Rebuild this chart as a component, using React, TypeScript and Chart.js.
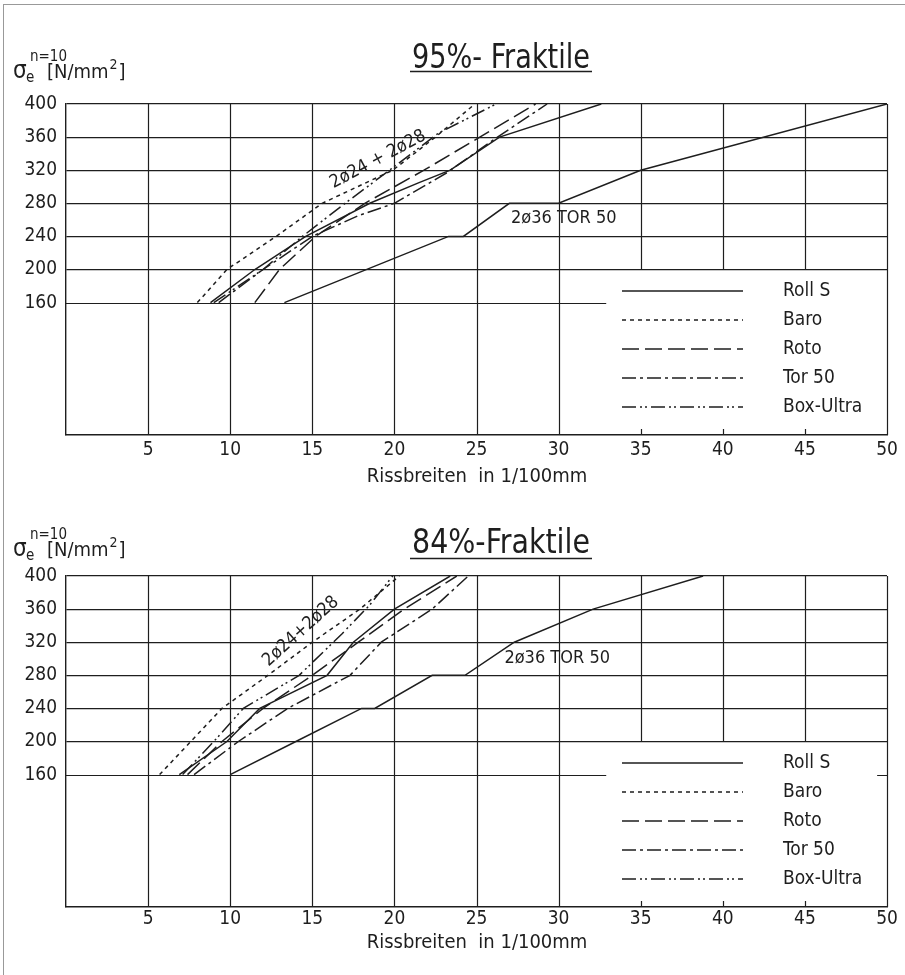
import React, { useEffect, useRef } from "react";
import { Chart, registerables } from "chart.js";
Chart.register(...registerables);

type Pt = [number, number];

const FONT = '"DejaVu Sans Condensed", "Liberation Sans Narrow", "DejaVu Sans", sans-serif';
const INK = "#1e1e1e";

// axis ticks
const xTicks = [5, 10, 15, 20, 25, 30, 35, 40, 45, 50];
const yTicks = [160, 200, 240, 280, 320, 360, 400];

// legend
const seriesNames = ["Roll S", "Baro", "Roto", "Tor 50", "Box-Ultra"];
const seriesDash: number[][] = [[], [4, 4], [17, 6], [14, 4, 3, 4], [14, 4, 2, 3, 2, 4]];

// 95%-Fraktile, group 2ø24 + 2ø28
const rollS95: Pt[] = [[8.8, 160], [11.5, 200], [14.6, 240], [18.5, 280], [21.5, 305], [23.4, 320], [26.4, 360], [32.6, 400]];
const baro95: Pt[] = [[8.0, 160], [9.8, 200], [12.8, 240], [15.6, 280], [19.9, 320], [22.5, 360], [24.9, 400]];
const roto95: Pt[] = [[11.5, 160], [13.0, 200], [15.2, 240], [18.2, 280], [21.8, 320], [25.2, 360], [28.6, 400]];
const tor95: Pt[] = [[9.3, 160], [12.0, 200], [15.0, 240], [17.8, 265], [20.0, 280], [23.2, 317], [26.2, 359], [29.3, 400]];
const box95: Pt[] = [[9.0, 160], [12.0, 200], [14.4, 240], [17.0, 280], [19.7, 320], [22.7, 365], [26.2, 400]];
// 95%-Fraktile, 2ø36 TOR 50
const tor36_95: Pt[] = [[13.3, 160], [23.3, 240], [24.2, 240], [27.0, 280], [30.0, 280], [35.0, 320], [50.0, 400]];

// 84%-Fraktile, group 2ø24 + 2ø28
const rollS84: Pt[] = [[6.9, 160], [9.8, 200], [11.8, 240], [15.9, 280], [17.5, 320], [20.0, 360], [23.4, 400]];
const baro84: Pt[] = [[5.7, 160], [7.6, 200], [9.5, 240], [12.3, 280], [15.0, 320], [17.9, 360], [20.3, 400]];
const roto84: Pt[] = [[7.4, 160], [9.5, 200], [12.0, 240], [15.0, 280], [17.8, 320], [20.6, 360], [23.8, 400]];
const tor84: Pt[] = [[7.8, 160], [10.5, 200], [13.5, 240], [17.3, 280], [19.2, 320], [22.3, 360], [24.5, 400]];
const box84: Pt[] = [[7.1, 160], [9.0, 200], [10.8, 240], [14.2, 280], [16.8, 330], [18.5, 365], [19.9, 400]];
// 84%-Fraktile, 2ø36 TOR 50
const tor36_84: Pt[] = [[10.0, 160], [14.0, 200], [18.0, 240], [18.8, 240], [22.3, 280], [24.3, 280], [27.3, 320], [32.1, 360], [38.8, 400]];

interface PanelCfg {
  top: number;
  height: number;
  chartTop: number;
  chartBottom: number;
  title: string;
  titleY: number;
  underlineY: number;
  yLabelY: number;
  xTitleY: number;
  tickPad: number;
  group: Pt[][];
  single: Pt[];
  groupLabel: { x: number; y: number; angle: number; text: string };
  singleLabel: { x: number; y: number; text: string };
  stub: boolean;
}

const panels: PanelCfg[] = [
  {
    top: 0, height: 487, chartTop: 104, chartBottom: 435,
    title: "95%- Fraktile", titleY: 56, underlineY: 71, yLabelY: 78, xTitleY: 477, tickPad: 4,
    group: [rollS95, baro95, roto95, tor95, box95], single: tor36_95,
    groupLabel: { x: 19.0, y: 333, angle: -28, text: "2ø24 + 2ø28" },
    singleLabel: { x: 27.1, y: 262, text: "2ø36 TOR 50" },
    stub: false,
  },
  {
    top: 487, height: 488, chartTop: 89, chartBottom: 420,
    title: "84%-Fraktile", titleY: 54, underlineY: 71, yLabelY: 69, xTitleY: 456, tickPad: 1,
    group: [rollS84, baro84, roto84, tor84, box84], single: tor36_84,
    groupLabel: { x: 14.3, y: 333, angle: -42, text: "2ø24+2ø28" },
    singleLabel: { x: 26.7, y: 301, text: "2ø36 TOR 50" },
    stub: true,
  },
];

function Panel({ cfg }: { cfg: PanelCfg }) {
  const ref = useRef<HTMLCanvasElement | null>(null);
  useEffect(() => {
    if (!ref.current) return;
    const datasets: any[] = cfg.group.map((pts, i) => ({
      label: seriesNames[i],
      data: pts.map(([x, y]) => ({ x, y })),
      borderColor: INK,
      borderWidth: 1.5,
      borderDash: seriesDash[i],
      pointRadius: 0,
      tension: 0,
      fill: false,
    }));
    datasets.push({
      label: "2ø36 TOR 50",
      data: cfg.single.map(([x, y]) => ({ x, y })),
      borderColor: INK,
      borderWidth: 1.5,
      borderDash: [],
      pointRadius: 0,
      tension: 0,
      fill: false,
    });

    const decor = {
      id: "decor",
      beforeDatasetsDraw(chart: any) {
        const { ctx, chartArea } = chart;
        const xs = chart.scales.x;
        const ys = chart.scales.y;
        ctx.save();
        ctx.strokeStyle = INK;
        ctx.lineWidth = 1.2;
        const y200 = ys.getPixelForValue(200);
        for (const v of xTicks) {
          const px = Math.round(xs.getPixelForValue(v)) + 0.5;
          ctx.beginPath();
          if (v < 35 || v === 50) {
            ctx.moveTo(px, chartArea.top);
            ctx.lineTo(px, chartArea.bottom);
          } else {
            ctx.moveTo(px, chartArea.top);
            ctx.lineTo(px, y200);
            ctx.moveTo(px, chartArea.bottom);
            ctx.lineTo(px, chartArea.bottom - 6);
          }
          ctx.stroke();
        }
        const y160 = Math.round(ys.getPixelForValue(160)) + 0.5;
        ctx.beginPath();
        ctx.moveTo(chartArea.left, y160);
        ctx.lineTo(xs.getPixelForValue(32.9), y160);
        if (cfg.stub) {
          ctx.moveTo(xs.getPixelForValue(49.4), y160);
          ctx.lineTo(chartArea.right, y160);
        }
        ctx.stroke();
        ctx.restore();
      },
      afterDraw(chart: any) {
        const { ctx, chartArea } = chart;
        const xs = chart.scales.x;
        const ys = chart.scales.y;
        ctx.save();
        ctx.fillStyle = INK;
        ctx.strokeStyle = INK;
        ctx.textBaseline = "alphabetic";

        // title (tall, narrow lettering)
        ctx.font = `33px ${FONT}`;
        ctx.textAlign = "center";
        const cx = 501;
        const tw = ctx.measureText(cfg.title).width;
        const targetW = 178;
        ctx.save();
        ctx.translate(cx, cfg.titleY + 12);
        ctx.scale(targetW / tw, 1);
        ctx.fillText(cfg.title, 0, 0);
        ctx.restore();
        ctx.lineWidth = 1.6;
        ctx.beginPath();
        ctx.moveTo(cx - targetW / 2 - 2, cfg.underlineY + 0.5);
        ctx.lineTo(cx + targetW / 2 + 2, cfg.underlineY + 0.5);
        ctx.stroke();

        // y-axis label: sigma_e^{n=10} [N/mm²]
        ctx.textAlign = "left";
        const b = cfg.yLabelY;
        ctx.font = `24px ${FONT}`;
        ctx.fillText("σ", 13, b);
        ctx.font = `15px ${FONT}`;
        ctx.fillText("e", 26, b + 4);
        ctx.fillText("n=10", 30, b - 17);
        ctx.font = `20px ${FONT}`;
        ctx.fillText("[N/mm", 47, b);
        const w1 = ctx.measureText("[N/mm").width;
        ctx.font = `14px ${FONT}`;
        ctx.fillText("2", 47 + w1 + 1, b - 9);
        ctx.font = `20px ${FONT}`;
        ctx.fillText("]", 47 + w1 + 10, b);

        // x-axis title
        ctx.font = `20px ${FONT}`;
        ctx.textAlign = "center";
        ctx.textBaseline = "middle";
        ctx.fillText("Rissbreiten  in 1/100mm", 477, cfg.xTitleY);

        // curve labels
        ctx.font = `18px ${FONT}`;
        ctx.save();
        ctx.translate(xs.getPixelForValue(cfg.groupLabel.x), ys.getPixelForValue(cfg.groupLabel.y));
        ctx.rotate((cfg.groupLabel.angle * Math.PI) / 180);
        ctx.fillText(cfg.groupLabel.text, 0, 0);
        ctx.restore();
        ctx.textAlign = "left";
        ctx.fillText(cfg.singleLabel.text, xs.getPixelForValue(cfg.singleLabel.x), ys.getPixelForValue(cfg.singleLabel.y));

        // legend
        ctx.font = `19px ${FONT}`;
        ctx.lineWidth = 1.4;
        for (let i = 0; i < seriesNames.length; i++) {
          const ly = chartArea.top + 187 + i * 29;
          ctx.setLineDash(seriesDash[i]);
          ctx.beginPath();
          ctx.moveTo(622, ly);
          ctx.lineTo(743, ly);
          ctx.stroke();
          ctx.setLineDash([]);
          ctx.fillText(seriesNames[i], 783, ly);
        }
        ctx.restore();
      },
    };

    const chart = new Chart(ref.current, {
      type: "line",
      data: { datasets },
      options: {
        animation: false,
        responsive: false,
        devicePixelRatio: 1,
        layout: { padding: { top: cfg.chartTop, right: 18, left: 0, bottom: 0 } },
        plugins: { legend: { display: false }, tooltip: { enabled: false }, title: { display: false } },
        scales: {
          x: {
            type: "linear",
            min: 0,
            max: 50,
            afterBuildTicks: (s: any) => { s.ticks = xTicks.map((v) => ({ value: v })); },
            afterFit: (s: any) => { s.height = cfg.height - cfg.chartBottom; },
            grid: { display: false, drawTicks: false },
            border: { display: true, color: INK, width: 1.4 },
            ticks: {
              autoSkip: false, maxRotation: 0, padding: cfg.tickPad, color: INK,
              font: { family: FONT, size: 19 },
            },
          },
          y: {
            type: "linear",
            min: 0,
            max: 400,
            afterBuildTicks: (s: any) => { s.ticks = yTicks.map((v) => ({ value: v })); },
            afterFit: (s: any) => { s.width = 66; },
            grid: {
              drawTicks: false,
              lineWidth: 1.2,
              color: (c: any) => (c.tick && c.tick.value === 160 ? "rgba(0,0,0,0)" : INK),
            },
            border: { display: true, color: INK, width: 1.4 },
            ticks: {
              autoSkip: false, padding: 9, color: INK,
              font: { family: FONT, size: 19 },
            },
          },
        },
      },
      plugins: [decor],
    } as any);
    return () => chart.destroy();
  }, [cfg]);
  return (
    <canvas
      ref={ref}
      width={905}
      height={cfg.height}
      style={{ position: "absolute", left: 0, top: cfg.top, width: 905, height: cfg.height }}
    />
  );
}

export default function App() {
  return (
    <div style={{ position: "absolute", left: 0, top: 0, width: 905, height: 975, background: "#fff", overflow: "hidden" }}>
      <div style={{ position: "absolute", left: 3, top: 4, width: 905, height: 980, borderLeft: "1px solid #999", borderTop: "1px solid #999" }} />
      {panels.map((p, i) => (
        <Panel key={i} cfg={p} />
      ))}
    </div>
  );
}
